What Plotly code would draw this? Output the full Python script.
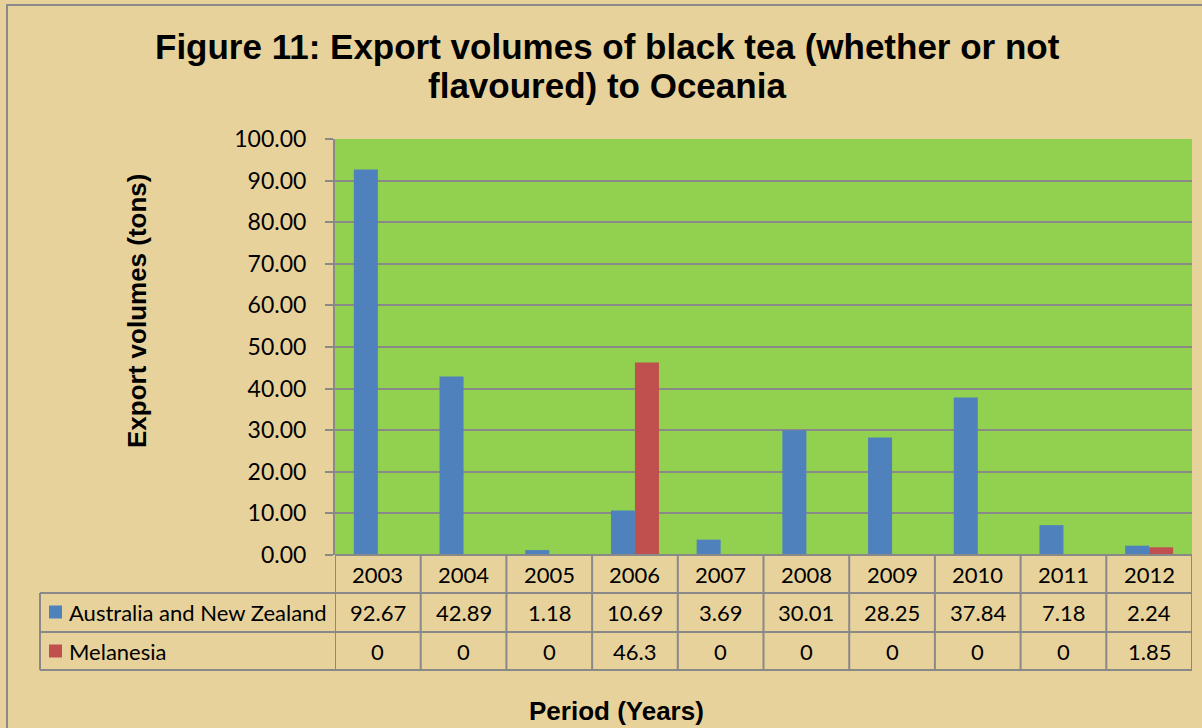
import plotly.graph_objects as go

# Data
years = ["2003", "2004", "2005", "2006", "2007", "2008", "2009", "2010", "2011", "2012"]
anz = [92.67, 42.89, 1.18, 10.69, 3.69, 30.01, 28.25, 37.84, 7.18, 2.24]
melanesia = [0, 0, 0, 46.3, 0, 0, 0, 0, 0, 1.85]
series_names = ["Australia and New Zealand", "Melanesia"]
y_ticks = [0, 10, 20, 30, 40, 50, 60, 70, 80, 90, 100]

title_1 = "Figure 11: Export volumes of black tea (whether or not"
title_2 = "flavoured) to Oceania"
y_title = "Export volumes (tons)"
x_title = "Period (Years)"

# Layout geometry (pixels)
W, H = 1202, 728
L, R, T, B = 335, 1192, 139, 555
BLUE, RED = "#4F81BD", "#C0504D"
GRID = "#898989"
BG = "#E8D29B"
PLOT_BG = "#92D050"
BODY_FONT = "Lato"
HEAD_FONT = "Liberation Sans"


def px(x):
    return (x - L) / (R - L)


def py(y):
    return (B - y) / (B - T)


fig = go.Figure()
fig.add_trace(go.Bar(x=years, y=anz, name=series_names[0], marker=dict(color=BLUE, line=dict(width=0))))
fig.add_trace(go.Bar(x=years, y=melanesia, name=series_names[1], marker=dict(color=RED, line=dict(width=0))))

shapes = []
# outer chart frame
shapes.append(dict(type="rect", xref="paper", yref="paper", x0=px(7), x1=px(1230), y0=py(5), y1=py(760),
                   line=dict(color="#8a8a8a", width=2), fillcolor="rgba(0,0,0,0)", layer="below"))

# data table grid
row_lines = [593, 632, 670]
for yy in row_lines:
    shapes.append(dict(type="line", xref="paper", yref="paper", x0=px(40), x1=px(R), y0=py(yy), y1=py(yy),
                       line=dict(color=GRID, width=2)))
shapes.append(dict(type="line", xref="paper", yref="paper", x0=px(40), x1=px(40), y0=py(593), y1=py(670),
                   line=dict(color=GRID, width=2)))
for i in range(len(years) + 1):
    shapes.append(dict(type="line", xref="x", yref="paper", x0=i - 0.5, x1=i - 0.5, y0=py(B), y1=py(670),
                       line=dict(color=GRID, width=2)))
shapes.append(dict(type="line", xref="paper", yref="paper", x0=0, x1=1, y0=0, y1=0,
                   line=dict(color=GRID, width=2)))

# legend keys inside the table
for yc, col in [(612, BLUE), (651, RED)]:
    shapes.append(dict(type="rect", xref="paper", yref="paper", x0=px(49), x1=px(62), y0=py(yc - 6.5), y1=py(yc + 6.5),
                       line=dict(width=0), fillcolor=col))

ann = []
ann.append(dict(text=f"<b>{title_1}</b>", x=px(607), y=py(46), xref="paper", yref="paper", showarrow=False,
                xanchor="center", yanchor="middle", font=dict(family=HEAD_FONT, size=35, color="black")))
ann.append(dict(text=f"<b>{title_2}</b>", x=px(607), y=py(86), xref="paper", yref="paper", showarrow=False,
                xanchor="center", yanchor="middle", font=dict(family=HEAD_FONT, size=35, color="black")))
ann.append(dict(text=f"<b>{y_title}</b>", x=px(137), y=py(311), xref="paper", yref="paper", showarrow=False,
                textangle=-90, xanchor="center", yanchor="middle", font=dict(family=HEAD_FONT, size=26, color="black")))
ann.append(dict(text=f"<b>{x_title}</b>", x=px(616), y=py(711), xref="paper", yref="paper", showarrow=False,
                xanchor="center", yanchor="middle", font=dict(family=HEAD_FONT, size=26, color="black")))

cell_font = dict(family=BODY_FONT, size=22, color="black")
for i, yr in enumerate(years):
    ann.append(dict(text=yr, x=i, y=py(574), xref="x", yref="paper", showarrow=False,
                    xanchor="center", yanchor="middle", font=cell_font))
    ann.append(dict(text=f"{anz[i]:g}", x=i, y=py(612), xref="x", yref="paper", showarrow=False,
                    xanchor="center", yanchor="middle", font=cell_font))
    ann.append(dict(text=f"{melanesia[i]:g}", x=i, y=py(651), xref="x", yref="paper", showarrow=False,
                    xanchor="center", yanchor="middle", font=cell_font))
for name, yc in zip(series_names, [612, 651]):
    ann.append(dict(text=name, x=px(67), y=py(yc), xref="paper", yref="paper", showarrow=False,
                    xanchor="left", yanchor="middle", font=cell_font))

fig.update_layout(
    width=W, height=H,
    margin=dict(l=L, r=W - R, t=T, b=H - B, pad=0),
    paper_bgcolor=BG, plot_bgcolor=PLOT_BG,
    barmode="group", bargap=0.44, bargroupgap=0,
    showlegend=False,
    shapes=shapes, annotations=ann,
    xaxis=dict(type="category", range=[-0.5, len(years) - 0.5], showticklabels=False, showgrid=False,
               zeroline=False, showline=False, ticks=""),
    yaxis=dict(range=[0, 100], tickvals=y_ticks, tickformat=".2f", showgrid=True, gridcolor=GRID, gridwidth=2,
               zeroline=False, showline=True, linecolor=GRID, linewidth=2, ticks="outside", ticklen=8,
               tickcolor=GRID, tickwidth=2, ticklabelstandoff=14,
               tickfont=dict(family=BODY_FONT, size=23, color="black")),
)

fig.write_html("out.html")
